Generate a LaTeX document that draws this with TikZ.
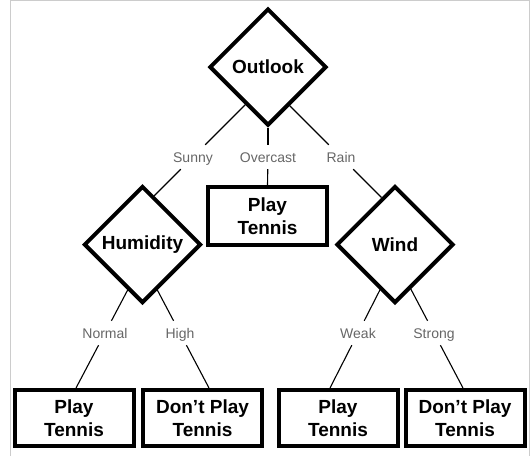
\documentclass[tikz,border=0pt]{standalone}
\usepackage{fontspec}
\setmainfont{Liberation Sans}
\usetikzlibrary{shapes.geometric,calc,backgrounds}
\definecolor{edgegray}{HTML}{666666}
\definecolor{framegray}{HTML}{CCCCCC}
\begin{document}
\begin{tikzpicture}[x=1pt,y=-1pt,
  decision/.style={diamond, draw, line width=4pt, fill=white, aspect=1,
    minimum width=117pt, minimum height=117pt, inner sep=0pt,
    font=\fontsize{19}{23}\selectfont\bfseries},
  leaf/.style={rectangle, draw, line width=4pt, fill=white, align=center,
    minimum width=119pt, minimum height=56pt, inner sep=0pt,
    font=\fontsize{19}{23}\selectfont\bfseries},
  branch/.style={text=edgegray, font=\fontsize{14}{16}\selectfont,
    inner sep=0pt, minimum height=24pt, text height=10pt, text depth=0pt},
  link/.style={line width=1.1pt, black}]

\useasboundingbox (0,0) rectangle (530,456);
\draw[framegray, line width=1pt] (10,456) -- (10,0.5) -- (529.5,0.5) -- (529.5,456);

% decision nodes
\node[decision] (outlook)  at (268,67)    {Outlook};
\node[decision] (humidity) at (142.5,244.5) {Humidity};
\node[decision] (wind)     at (395,244.5) {Wind};

% leaves
\node[leaf, minimum height=58pt] (mid) at (267.5,216) {Play\\Tennis};
\node[leaf] (leafA) at (74,418)    {Play\\Tennis};
\node[leaf] (leafB) at (202.5,418) {Don’t Play\\Tennis};
\node[leaf] (leafC) at (338,418)   {Play\\Tennis};
\node[leaf] (leafD) at (465,418)   {Don’t Play\\Tennis};

% branch labels
\node[branch] (sunny)    at (193,157) {Sunny};
\node[branch] (overcast) at (268,157) {Overcast};
\node[branch] (rain)     at (341,157) {Rain};
\node[branch] (normal)   at (105,333) {Normal};
\node[branch] (high)     at (180,333) {High};
\node[branch] (weak)     at (358,333) {Weak};
\node[branch] (strong)   at (434,333) {Strong};

% where the lower branches meet the leaves
\coordinate (inA) at ([xshift=2pt]leafA.north);
\coordinate (inB) at ([xshift=6.5pt]leafB.north);
\coordinate (inC) at ([xshift=-8pt]leafC.north);
\coordinate (inD) at ([xshift=-2pt]leafD.north);

\begin{scope}[on background layer]
  \draw[link] (sunny) -- ($(outlook.south)!(sunny)!(outlook.west)$);
  \draw[link] (sunny) -- ($(humidity.north)!(sunny)!(humidity.east)$);
  \draw[link] (overcast) -- (outlook.south);
  \draw[link] (overcast) -- (mid.north);
  \draw[link] (rain) -- ($(outlook.south)!(rain)!(outlook.east)$);
  \draw[link] (rain) -- ($(wind.north)!(rain)!(wind.west)$);

  \draw[link] (normal) -- (inA);
  \draw[link] (normal) -- ($(inA)!1.85!(normal)$);
  \draw[link] (high) -- (inB);
  \draw[link] (high) -- ($(inB)!1.85!(high)$);
  \draw[link] (weak) -- (inC);
  \draw[link] (weak) -- ($(inC)!1.85!(weak)$);
  \draw[link] (strong) -- (inD);
  \draw[link] (strong) -- ($(inD)!1.85!(strong)$);
\end{scope}
\end{tikzpicture}
\end{document}
